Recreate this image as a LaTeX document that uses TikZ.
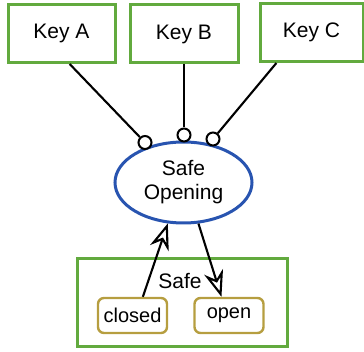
\documentclass[tikz,border=0pt]{standalone}
\usepackage{fontspec}
\setmainfont{Liberation Sans}
\usetikzlibrary{arrows.meta,shapes.geometric}
\definecolor{keygreen}{RGB}{98,170,62}
\definecolor{opblue}{RGB}{40,84,176}
\definecolor{stolive}{RGB}{182,158,64}

\begin{document}
\begin{tikzpicture}[x=1pt,y=-1pt,
  font=\fontsize{21}{24}\selectfont,
  keybox/.style={draw=keygreen,line width=3pt,minimum width=#1,
                 minimum height=58pt,inner sep=0pt},
  opnode/.style={ellipse,draw=opblue,line width=3pt,minimum width=137pt,
                 minimum height=81pt,inner sep=0pt,align=center},
  sock/.style={circle,draw,fill=white,line width=2pt,minimum size=13pt,inner sep=0pt},
  statebox/.style={draw=stolive,line width=2.4pt,rounded corners=6pt,
                   minimum width=69pt,minimum height=35pt,inner sep=0pt,
                   font=\fontsize{20}{23}\selectfont},
  wire/.style={line width=2.1pt},
  trans/.style={line width=2.1pt,-{Stealth[open,scale=2.1]}},
]
\useasboundingbox (0,0) rectangle (364,352);

% keys
\node[keybox=107pt] (keyA) at (61.5,33.5) {Key A};
\node[keybox=108pt] (keyB) at (184,34)    {Key B};
\node[keybox=103pt] (keyC) at (311.5,32.5){Key C};

% operation
\node[opnode] (safeop) at (183.5,182.5) {Safe\\Opening};

% sockets on the operation
\node[sock] (sA) at (145,142.5) {};
\node[sock] (sB) at (184,135)   {};
\node[sock] (sC) at (213,139)   {};

\draw[wire] (keyA.-75.7) -- (sA);
\draw[wire] (keyB.south) -- (sB);
\draw[wire] (keyC.-139.3) -- (sC);

% safe with its states
\node[draw=keygreen,line width=3pt,minimum width=210pt,minimum height=88pt,
      inner sep=0pt] (safe) at (182,303) {};
\node (safelbl) at (180,281) {Safe};
\node[statebox] (closed) at (132.5,315.5) {closed};
\node[statebox] (st-open) at (229,315.5)  {open};

\draw[trans] (closed.61.5) -- (safeop.-111);
\draw[trans] (safeop.-70) -- (st-open.112);
\end{tikzpicture}
\end{document}
